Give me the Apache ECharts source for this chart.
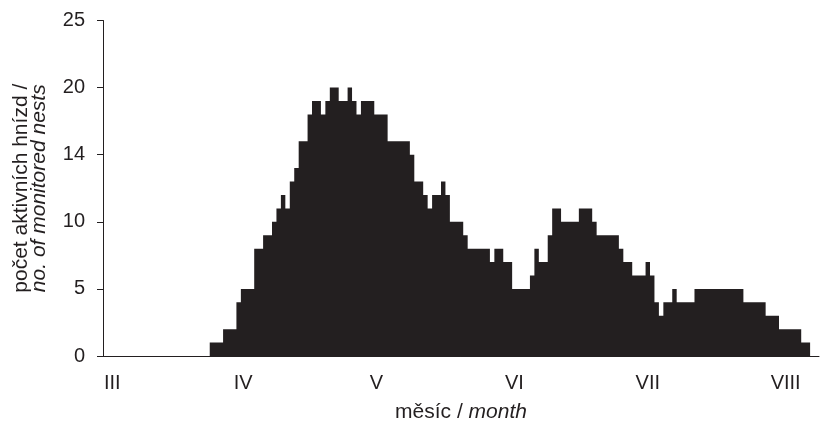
<!DOCTYPE html>
<html>
<head>
<meta charset="utf-8">
<script src="https://cdn.jsdelivr.net/npm/echarts@6/dist/echarts.min.js"></script>
<style>
html,body{margin:0;padding:0;background:#fff;}
#chart{width:821px;height:428px;}
</style>
</head>
<body>
<div id="chart"></div>
<script>
// month labels and number of days drawn for each month (Mar 1 .. Aug 8)
const monthNames = ['III', 'IV', 'V', 'VI', 'VII', 'VIII'];
const monthDays = [31, 30, 31, 30, 31, 8];

// number of active nests per day, starting March 1
const nestCounts = [
  0,0,0,0,0,0,0,0,0,0,0,0,0,0,0,0,0,0,0,0,0,0,0,0,      // Mar 1-24
  1,1,1, 2,2,2, 4,                                      // Mar 25-31
  5,5,5, 8,8, 9,9, 10, 11, 12, 11, 13, 14, 16,16, 18,    // Apr 1-16
  19,19, 18, 19, 20,20, 19,19, 20, 19, 18, 19,19,19,     // Apr 17-30
  18,18,18, 16,16,16,16,16, 15, 13,13, 12, 11, 12,12,    // May 1-15
  13, 12, 10,10,10, 9, 8,8,8,8,8, 7, 8,8, 7,7,           // May 16-31
  5,5,5,5, 6, 8, 7,7, 9, 11,11, 10,10,10,10, 11,11,11,   // Jun 1-18
  10, 9,9,9,9,9, 8, 7,7, 6,6,6,                          // Jun 19-30
  7, 6, 4, 3, 4,4, 5, 4,4,4,4, 5,5,5,5,5,5,5,5,5,5,5,    // Jul 1-22
  4,4,4,4,4, 3,3,3, 2,                                   // Jul 23-31
  2,2,2,2, 1,1, 0,0                                      // Aug 1-8
];

// y-axis tick labels (as printed)
const yTickLabels = ['0', '5', '10', '14', '20', '25'];

const categories = [];
monthNames.forEach((m, i) => {
  for (let d = 1; d <= monthDays[i]; d++) categories.push(m + '-' + d);
});

const isMonthStart = (idx, val) => /-1$/.test(val);
const font = 'Liberation Sans, Arial, Helvetica, sans-serif';
const ink = '#231f20';
const fs = 20;

const chart = echarts.init(document.getElementById('chart'));
chart.setOption({
  animation: false,
  backgroundColor: '#fff',
  grid: { left: 103, right: 2, top: 20.5, bottom: 71.5, containLabel: false },
  xAxis: {
    type: 'category',
    data: categories,
    boundaryGap: true,
    axisLine: { lineStyle: { color: ink, width: 1 } },
    axisTick: { interval: isMonthStart, alignWithLabel: true, length: 5, lineStyle: { color: ink } },
    axisLabel: {
      interval: isMonthStart,
      margin: 17,
      fontFamily: font,
      fontSize: fs,
      color: ink,
      formatter: v => {
        const m = v.split('-')[0];
        return m === 'III' ? '{s|' + m + '}' : m;
      },
      rich: { s: { padding: [0, 0, 0, 14], fontFamily: font, fontSize: fs, color: ink } }
    },
    splitLine: { show: false },
    name: '{r|měsíc / }{i|month}',
    nameLocation: 'middle',
    nameGap: 46,
    nameTextStyle: {
      fontFamily: font, fontSize: 21, color: ink,
      rich: {
        r: { fontFamily: font, fontSize: 21, color: ink },
        i: { fontFamily: font, fontSize: 21, color: ink, fontStyle: 'italic' }
      }
    }
  },
  yAxis: {
    type: 'value',
    min: 0,
    max: 25,
    interval: 5,
    axisLine: { show: true, lineStyle: { color: ink, width: 1 } },
    axisTick: { show: true, length: 6, lineStyle: { color: ink } },
    splitLine: { show: false },
    axisLabel: {
      margin: 18,
      fontFamily: font,
      fontSize: fs,
      color: ink,
      formatter: v => yTickLabels[Math.round(v / 5)]
    },
    name: '{a|počet aktivních hnízd /}\n{b|no. of monitored nests}',
    nameLocation: 'middle',
    nameRotate: 90,
    nameGap: 55,
    nameTextStyle: {
      fontFamily: font, fontSize: 21, color: ink, lineHeight: 18,
      rich: {
        a: { fontFamily: font, fontSize: 21, color: ink, lineHeight: 18 },
        b: { fontFamily: font, fontSize: 21, color: ink, lineHeight: 18, fontStyle: 'italic' }
      }
    }
  },
  series: [{
    type: 'line',
    data: nestCounts,
    step: 'middle',
    symbol: 'none',
    lineStyle: { width: 0, color: ink },
    areaStyle: { color: ink, opacity: 1 },
    emphasis: { disabled: true },
    z: 1
  }]
});
</script>
</body>
</html>
